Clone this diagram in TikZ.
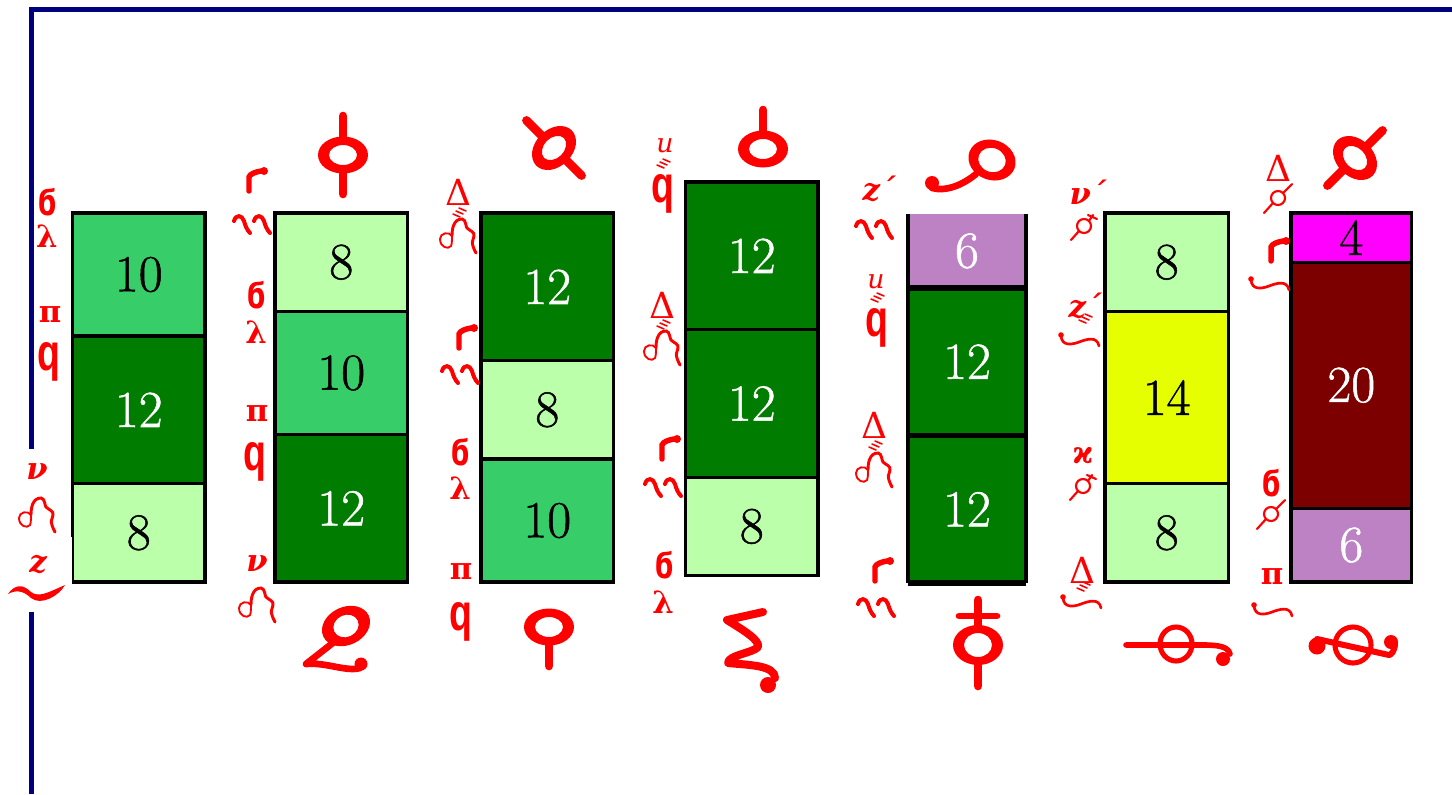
\documentclass[tikz,border=0pt]{standalone}
\usepackage{fontspec}
\usetikzlibrary{positioning}
\newfontfamily\signfont{DejaVu Serif}
\newfontfamily\coptfont{DejaVu Sans}
\newfontfamily\tailfont{Liberation Sans}
\newfontfamily\numfont[FakeBold=1]{Latin Modern Roman}
\definecolor{midgreen}{RGB}{55,205,105}
\definecolor{deepgreen}{RGB}{0,125,0}
\definecolor{palegreen}{RGB}{187,255,170}
\definecolor{lilac}{RGB}{188,130,195}
\definecolor{lemon}{RGB}{230,255,0}
\definecolor{pinkcap}{RGB}{255,0,255}
\definecolor{maroonred}{RGB}{125,0,0}
\definecolor{framenavy}{RGB}{0,0,125}
\tikzset{
  segment/.style={draw=black, line width=2.4pt, outer sep=0pt, inner sep=0pt, minimum width=99.4pt,
    minimum height=#1*9.225pt, font=\numfont\fontsize{39}{40}\selectfont},
  ten/.style={segment=10, fill=midgreen},
  twelve/.style={segment=12, fill=deepgreen, text=white},
  eight/.style={segment=8, fill=palegreen},
  six/.style={segment=6, fill=lilac, text=white},
  fourteen/.style={segment=14, fill=lemon},
  four/.style={segment=4, fill=pinkcap},
  twenty/.style={segment=20, fill=maroonred, text=white},
  lbl/.style={text=red, inner sep=0pt, font=\signfont\bfseries\fontsize{23}{23}\selectfont},
  lbldelta/.style={lbl, font=\signfont\fontsize{27}{27}\selectfont},
  lblsix/.style={lbl, font=\coptfont\bfseries\fontsize{27}{27}\selectfont},
  lblbig/.style={lbl, font=\tailfont\bfseries\fontsize{39}{39}\selectfont},
  fat/.style={draw=red, line cap=round, line join=round, line width=6.5pt},
  pen/.style={draw=red, line cap=round, line width=2.6pt},
  hair/.style={draw=red, line cap=round, line width=1.4pt},
  band/.pic={\fill[red, even odd rule] (0,0) ellipse (25 and 18.5) (0,0) ellipse (14 and 10);},
  upstem/.pic={\draw[fat] (0,-16) -- (0,-39);},
  downstem/.pic={\draw[fat] (0,16) -- (0,39);},
  keyring/.pic={
    \fill[red, even odd rule, rotate=25] (0,0) ellipse (25 and 19) (0,0) ellipse (13 and 11);
    \draw[fat, line width=5pt] (-12,16) -- (-40,38) .. controls (-20,36) and (0,46) .. (14,42);
    \fill[red] (15,38) circle (6.5);},
  hookring/.pic={
    \fill[red, even odd rule, rotate=-20] (0,0) ellipse (24 and 20) (0,0) ellipse (14 and 12);
    \draw[fat, line width=5pt] (-16,14) .. controls (-28,24) and (-45,32) .. (-60,28);
    \fill[red] (-60,23) circle (7);},
  coil/.pic={
    \draw[fat, line width=6pt] (20,-38) -- (-16,-30) .. controls (0,-20) and (17,-10) .. (15,-3)
      .. controls (10,3) and (-15,5) .. (-15,13) .. controls (5,15) and (32,15) .. (32,28);
    \fill[red] (25,35) circle (8);},
  crossring/.pic={
    \fill[red, even odd rule] (0,0) ellipse (25 and 20) (0,0) ellipse (14 and 12);
    \draw[fat] (0,-45) -- (0,-18) (0,18) -- (0,41);
    \draw[fat, line width=5pt] (-19,-29) -- (19,-29);},
  slimring/.pic={
    \draw[pen, line width=3.8pt] (0,0) ellipse (16 and 17);
    \draw[fat, line width=4.2pt] (-50,1) -- (16,1) .. controls (34,1) and (52,0) .. (54,10);
    \fill[red] (47,15) circle (7);},
  twistring/.pic={
    \draw[pen, line width=3.8pt] (0,0) ellipse (18 and 18);
    \draw[fat, line width=4.5pt] (-36,-6) -- (36,10) .. controls (38,10) and (42,6) .. (42,-2);
    \fill[red] (-36,1) circle (8.5) (38,-3) circle (7);},
  arch/.pic={
    \draw[hair] (-6,0) .. controls (-6,3) and (-6,8) .. (-7,10) .. controls (-10,14) and (-18,11) .. (-18,3)
      .. controls (-18,-3) and (-9,-5) .. (-6,0);
    \draw[pen, line width=2.2pt] (-6,0) .. controls (-6,-6) and (-5,-17) .. (4,-17)
      .. controls (8,-17) and (8,-8) .. (9,-8) .. controls (12,-5) and (17,-4) .. (16,0)
      .. controls (15,4) and (12,6) .. (18,17);},
  ticks/.pic={\draw[hair, line width=1.2pt] (-7,-3) -- (0,0) (-4,-6) -- (3,-3) (-1,-9) -- (6,-6);},
  twin/.pic={
    \foreach \dx in {-10,10} {
      \draw[pen, line width=3pt, xshift=\dx*0.75pt] (-8,-2) .. controls (-6,-9) and (0,-8) .. (2,-2)
        .. controls (3,2) and (5,7) .. (8,10);
    }},
  flag/.pic={
    \draw[pen, line width=4.1pt] (-6,11) -- (-6,-3) .. controls (-5,-6) and (0,-8) .. (6,-9);
    \fill[red] (9,-9) circle (4);},
  swash/.pic={
    \draw[pen, line width=2pt] (-18,-4) .. controls (-17,6) and (-8,5) .. (0,2) .. controls (8,-1) and (18,-4) .. (20,6);
    \fill[red] (-18,-5) circle (2.8);},
  tilda/.pic={\fill[red] (-29,2) .. controls (-22,-8) and (-14,-8) .. (-6,0) .. controls (2,6) and (12,0) .. (28,-7)
    .. controls (22,4) and (4,14) .. (-6,6) .. controls (-14,-2) and (-22,-2) .. (-29,2) -- cycle;},
  slash/.pic={
    \draw[hair, line width=1.6pt] (0,0) circle (7);
    \draw[hair, line width=1.6pt] (-14,15) -- (-5,5) (5,-5) -- (14,-14);},
  cross/.pic={
    \draw[hair, line width=1.6pt] (0,0) circle (7);
    \draw[hair, line width=1.6pt] (-13,14) -- (-5,5) (5,-5) -- (9,-11) (4,-11) -- (13,-7);},
}
\newcommand{\tailq}{\scalebox{0.72}[1]{q}}
\newcommand{\curlsix}{\scalebox{0.75}[1]{ϭ}}
\begin{document}
\begin{tikzpicture}[x=0.75pt, y=-0.75pt]
  \useasboundingbox (0,0) rectangle (1452,794);
  \coordinate (topright) at (1452,9);
  \coordinate (corner) at (31,9);
  \coordinate (bottomleft) at (31,794);
  \draw[framenavy, line width=3.75pt] (topright) -- (corner) -- (bottomleft);
  % columns
  \node[ten, anchor=north west] (a1) at (72.5,213) {10};
  \node[twelve, below=0pt of a1] (a2) {12};
  \node[eight, below=0pt of a2] (a3) {8};
  \node[eight, anchor=north west] (b1) at (275,213) {8};
  \node[ten, below=0pt of b1] (b2) {10};
  \node[twelve, below=0pt of b2] (b3) {12};
  \node[twelve, anchor=north west] (c1) at (481,213) {12};
  \node[eight, below=0pt of c1] (c2) {8};
  \node[ten, below=0pt of c2] (c3) {10};
  \node[twelve, anchor=north west] (d1) at (685.5,182) {12};
  \node[twelve, below=0pt of d1] (d2) {12};
  \node[eight, below=0pt of d2] (d3) {8};
  \node[six, draw=none, minimum width=88.5pt, anchor=north west] (e1) at (908,214) {6};
  \node[twelve, draw=none, minimum width=88.5pt, below=0pt of e1] (e2) {12};
  \node[twelve, draw=none, minimum width=88.5pt, below=0pt of e2] (e3) {12};
  \draw[line width=2.7pt] (e1.north west) -- (e3.south west) (e1.north east) -- (e3.south east);
  \draw[line width=4.2pt] (e1.south west) -- (e1.south east) (e2.south west) -- (e2.south east);
  \draw[line width=4.5pt] (e3.south west) -- (e3.south east);
  \node[eight, minimum width=92.5pt, anchor=north west] (f1) at (1105,213) {8};
  \node[fourteen, minimum width=92.5pt, below=0pt of f1] (f2) {14};
  \node[eight, minimum width=92.5pt, below=0pt of f2] (f3) {8};
  \node[four, minimum width=90.5pt, anchor=north west] (g1) at (1291,213) {4};
  \node[twenty, minimum width=90.5pt, below=0pt of g1] (g2) {20};
  \node[six, minimum width=90.5pt, below=0pt of g2] (g3) {6};
  % white patch behind the first column's low labels
  \fill[white] (25,449) rectangle (71,537);
  \fill[white] (0,537) rectangle (71.5,612);
  % first column
  \node[lblsix] (a1s) at (47,202) {\curlsix};
  \node[lbl] (a1l) at (47,236) {λ};
  \node[lbl] (a2p) at (50,315) {π};
  \node[lblbig] (a2q) at (49,362) {\tailq};
  \node[lbl] (a3n) at (37,472) {\itshape ν};
  \pic at (37,515) {arch};
  \node[lbl] (a4z) at (38,565) {\itshape z};
  \pic at (37,592) {tilda};
  % second column
  \pic at (255,180) {flag};
  \pic at (252,223) {twin};
  \node[lblsix] (b1s) at (256,295) {\curlsix};
  \node[lbl] (b1l) at (256,332) {λ};
  \node[lbl] (b2p) at (257,414) {π};
  \node[lblbig] (b2q) at (255,462) {\tailq};
  \node[lbl] (b3n) at (257,564) {\itshape ν};
  \pic at (257,605) {arch};
  \pic at (343,155) {band};
  \pic at (343,155) {upstem};
  \pic at (343,155) {downstem};
  \pic at (346,626) {keyring};
  % third column
  \node[lbldelta] (c1d) at (458,192) {Δ};
  \pic at (458,236) {arch};
  \pic at (460,217) {ticks};
  \pic at (465,337) {flag};
  \pic at (460,373) {twin};
  \node[lblsix] (c2s) at (460,452) {\curlsix};
  \node[lbl] (c2l) at (460,488) {λ};
  \node[lbl] (c3p) at (461,572) {π};
  \node[lblbig] (c3q) at (461,622) {\tailq};
  \pic[rotate=45] at (554,148) {band};
  \pic[rotate=45] at (554,148) {upstem};
  \pic[rotate=45] at (554,148) {downstem};
  \pic at (549,627) {band};
  \pic at (549,627) {downstem};
  % fourth column
  \node[lbl, font=\signfont\itshape\fontsize{20}{20}\selectfont] (d0u) at (665,146) {u};
  \node[lblbig] (d0q) at (663,194) {\tailq};
  \pic at (664,168) {ticks};
  \node[lbldelta] (d1d) at (662,305) {Δ};
  \pic at (662,348) {arch};
  \pic at (664,329) {ticks};
  \pic at (668,448) {flag};
  \pic at (663,486) {twin};
  \node[lblsix] (d3s) at (664,565) {\curlsix};
  \node[lbl] (d3l) at (663,602) {λ};
  \pic at (763,149) {band};
  \pic at (763,149) {upstem};
  \pic at (743,650) {coil};
  % fifth column
  \node[lbl] (e0z) at (879,189) {\itshape z´};
  \pic at (874,228) {twin};
  \node[lbl, font=\signfont\itshape\fontsize{20}{20}\selectfont] (e1u) at (876,282) {u};
  \node[lblbig] (e1q) at (877,328) {\tailq};
  \pic at (878,302) {ticks};
  \node[lbldelta] (e2d) at (874,425) {Δ};
  \pic at (874,470) {arch};
  \pic at (876,450) {ticks};
  \pic at (881,570) {flag};
  \pic at (876,606) {twin};
  \pic at (992,160) {hookring};
  \pic at (978,645) {crossring};
  % sixth column
  \node[lbl] (f0n) at (1088,192) {\itshape ν´};
  \pic at (1084,226) {cross};
  \node[lbl] (f1z) at (1085,306) {\itshape z´};
  \pic at (1079,340) {swash};
  \pic at (1086,323) {ticks};
  \node[lbl] (f2k) at (1083,456) {ϰ};
  \pic at (1083,486) {cross};
  \node[lbldelta] (f3d) at (1082,570) {Δ};
  \pic at (1081,602) {swash};
  \pic at (1084,591) {ticks};
  \pic at (1176,644) {slimring};
  % seventh column
  \node[lbldelta] (g0d) at (1278,168) {Δ};
  \pic at (1278,198) {slash};
  \pic at (1277,250) {flag};
  \pic at (1269,284) {swash};
  \node[lblsix] (g2s) at (1271,483) {\curlsix};
  \pic at (1271,514) {slash};
  \node[lbl] (g3p) at (1272,577) {π};
  \pic at (1272,610) {swash};
  \pic[rotate=-45] at (1355,158) {band};
  \pic[rotate=-45] at (1355,158) {upstem};
  \pic[rotate=-45] at (1355,158) {downstem};
  \pic at (1353,645) {twistring};
\end{tikzpicture}
\end{document}
